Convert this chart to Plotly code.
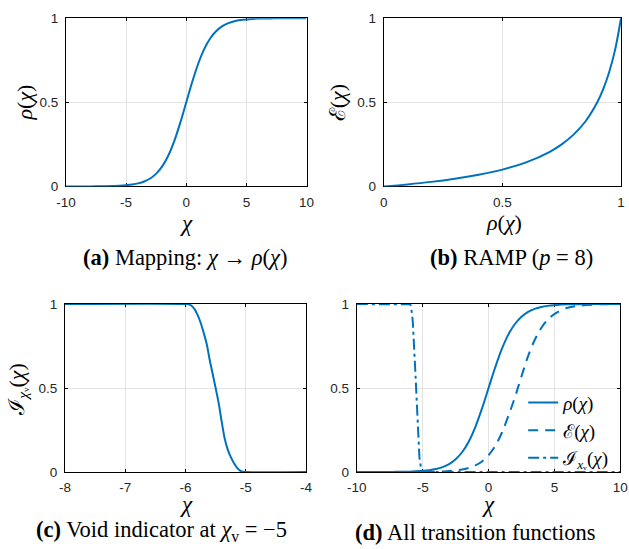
import plotly.graph_objects as go

# ---------------- data ----------------
chi = [-10, -9, -8, -7, -6, -5, -4.5, -4, -3.5, -3, -2.5, -2, -1.5, -1, -0.5, 0,
       0.5, 1, 1.5, 2, 2.5, 3, 3.5, 4, 4.5, 5, 6, 7, 8, 9, 10]
rho = [0.000, 0.000, 0.000, 0.001, 0.002, 0.007, 0.011, 0.018, 0.029, 0.047, 0.076,
       0.119, 0.182, 0.269, 0.378, 0.500, 0.622, 0.731, 0.818, 0.881, 0.924, 0.953,
       0.971, 0.982, 0.989, 0.993, 0.998, 0.999, 1.000, 1.000, 1.000]
E_chi = [0.000, 0.000, 0.000, 0.000, 0.000, 0.001, 0.001, 0.002, 0.003, 0.006, 0.009,
         0.015, 0.024, 0.039, 0.063, 0.100, 0.155, 0.232, 0.333, 0.445, 0.570, 0.690,
         0.786, 0.857, 0.908, 0.940, 0.978, 0.991, 0.997, 0.999, 1.000]

ramp_rho = [0, 0.1, 0.2, 0.3, 0.4, 0.5, 0.6, 0.7, 0.75, 0.8, 0.85, 0.9, 0.925, 0.95, 0.975, 1.0]
ramp_E = [0, 0.012, 0.027, 0.046, 0.069, 0.100, 0.143, 0.206, 0.250, 0.308, 0.386,
          0.500, 0.578, 0.679, 0.812, 1.000]

void_chi = [-8, -6.0, -5.95, -5.9, -5.85, -5.8, -5.75, -5.7, -5.65, -5.6, -5.55, -5.5,
            -5.45, -5.4, -5.35, -5.3, -5.25, -5.2, -5.15, -5.1, -5.05, -5.0, -4]
void_I = [1, 1.0, 0.998, 0.99, 0.97, 0.935, 0.89, 0.83, 0.765, 0.67, 0.585, 0.5,
          0.41, 0.30, 0.20, 0.135, 0.09, 0.055, 0.028, 0.01, 0.002, 0.0, 0]
void_ext_chi = [-10] + void_chi + [10]
void_ext_I = [1] + void_I + [0]

ticks_chi = [-10, -5, 0, 5, 10]
ticks_chi_txt = ["-10", "-5", "0", "5", "10"]
ticks_c = [-8, -7, -6, -5, -4]
ticks_c_txt = ["-8", "-7", "-6", "-5", "-4"]
ticks_unit = [0, 0.5, 1]
ticks_unit_txt = ["0", "0.5", "1"]

# ---------------- layout helpers ----------------
# observed placement: the 629x549 figure sits in the page body (8 px margin) and the
# page is photographed slightly reduced, screen = S * (8 + figure coordinate)
W, H = 629, 549
SX, SY = 629 / 645, 549 / 565
BLUE = "#0072BD"
SERIF = "Liberation Serif, DejaVu Serif, serif"
SANS = "Liberation Sans, Arial, sans-serif"


def px(x):
    return min(max((x / SX - 8) / W, 0.0), 1.0)


def py(y):
    return min(max(1 - (y / SY - 8) / H, 0.0), 1.0)


def axis(domain, tv, tt, rng, standoff):
    return dict(domain=domain, range=rng, tickvals=tv, ticktext=tt,
                showline=True, linecolor="black", linewidth=1, mirror="ticks",
                ticks="inside", ticklen=3, tickcolor="black", showgrid=True,
                gridcolor="#e3e3e3", gridwidth=1, zeroline=False, layer="below traces",
                ticklabelstandoff=standoff,
                tickfont=dict(family=SANS, size=13.5, color="#262626"), fixedrange=True)


fig = go.Figure()
line = dict(color=BLUE, width=2)
fig.add_trace(go.Scatter(x=chi, y=rho, mode="lines", line=dict(line, shape="spline"),
                         xaxis="x", yaxis="y", showlegend=False))
fig.add_trace(go.Scatter(x=ramp_rho, y=ramp_E, mode="lines", line=dict(line, shape="spline"),
                         xaxis="x2", yaxis="y2", showlegend=False))
fig.add_trace(go.Scatter(x=void_chi, y=void_I, mode="lines", line=dict(line, shape="spline"),
                         xaxis="x3", yaxis="y3", showlegend=False))
fig.add_trace(go.Scatter(x=chi, y=rho, mode="lines", name="<i>ρ</i>(<i>χ</i>)",
                         line=dict(color=BLUE, width=2, shape="spline"), xaxis="x4", yaxis="y4"))
fig.add_trace(go.Scatter(x=chi, y=E_chi, mode="lines", name="ℰ(<i>χ</i>)",
                         line=dict(color=BLUE, width=2, dash="10px,7px", shape="spline"),
                         xaxis="x4", yaxis="y4"))
fig.add_trace(go.Scatter(x=void_ext_chi, y=void_ext_I, mode="lines",
                         name="ℐ<sub><i>x</i>ᵥ</sub>(<i>χ</i>)",
                         line=dict(color=BLUE, width=2, dash="11px,4px,3px,4px"),
                         xaxis="x4", yaxis="y4"))

ya = [py(187), py(19)]
yc = [py(472.3), py(304.5)]
XS, YS = 3, 4
fig.update_layout(
    width=W, height=H, margin=dict(l=0, r=0, t=0, b=0),
    paper_bgcolor="white", plot_bgcolor="white",
    xaxis=dict(axis([px(64), px(305.5)], ticks_chi, ticks_chi_txt, [-10, 10], XS), anchor="y"),
    yaxis=dict(axis(ya, ticks_unit, ticks_unit_txt, [0, 1], YS), anchor="x"),
    xaxis2=dict(axis([px(383), px(625)], ticks_unit, ticks_unit_txt, [0, 1], XS), anchor="y2"),
    yaxis2=dict(axis(ya, ticks_unit, ticks_unit_txt, [0, 1], YS), anchor="x2"),
    xaxis3=dict(axis([px(63), px(305)], ticks_c, ticks_c_txt, [-8, -4], XS), anchor="y3"),
    yaxis3=dict(axis(yc, ticks_unit, ticks_unit_txt, [0, 1], YS), anchor="x3"),
    xaxis4=dict(axis([px(356), px(620.5)], ticks_chi, ticks_chi_txt, [-10, 10], XS), anchor="y4"),
    yaxis4=dict(axis(yc, ticks_unit, ticks_unit_txt, [0, 1], YS), anchor="x4"),
    legend=dict(x=px(523), y=py(384), xanchor="left", yanchor="top",
                bgcolor="rgba(255,255,255,0)", borderwidth=0,
                font=dict(family=SERIF, size=19, color="black"), tracegroupgap=0),
    showlegend=True,
)


def ann(x, y, text, size=22.5, angle=0):
    fig.add_annotation(x=px(x), y=py(y), xref="paper", yref="paper", text=text,
                       showarrow=False, textangle=angle, xanchor="center", yanchor="middle",
                       font=dict(family=SERIF, size=size, color="black"))


# axis titles
ann(185, 224, "<i>χ</i>", size=23)
ann(22, 103, "<i>ρ</i>(<i>χ</i>)", size=22, angle=-90)
ann(504, 223, "<i>ρ</i>(<i>χ</i>)", size=22)
ann(336, 103, "ℰ(<i>χ</i>)", size=22, angle=-90)
ann(185, 505, "<i>χ</i>", size=23)
ann(15, 390, "ℐ<sub><i>χ</i>ᵥ</sub>(<i>χ</i>)", size=22, angle=-90)
ann(488, 505, "<i>χ</i>", size=23)

# captions
ann(183, 258, "<b>(a)</b> Mapping: <i>χ</i> → <i>ρ</i>(<i>χ</i>)")
ann(511, 258, "<b>(b)</b> RAMP (<i>p</i> = 8)")
ann(160, 531, "<b>(c)</b> Void indicator at <i>χ</i><sub>v</sub> = −5")
ann(475, 533, "<b>(d)</b> All transition functions")

fig.write_html("out.html")
